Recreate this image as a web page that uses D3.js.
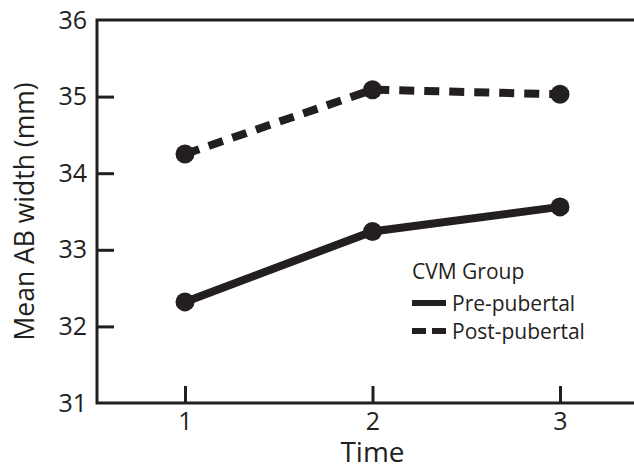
<!DOCTYPE html>
<html>
<head>
<meta charset="utf-8">
<script src="https://cdn.jsdelivr.net/npm/d3@7"></script>
<style>
  body { margin: 0; background: #fff; }
  svg { display: block; font-family: "Open Sans", sans-serif; }
</style>
</head>
<body>
<svg id="chart"></svg>
<script>
const WIDTH = 634;
const HEIGHT = 467;
const INK = "#231f20";

const times = [1, 2, 3];
const prePubertal = [32.32, 33.24, 33.56];
const postPubertal = [34.25, 35.09, 35.03];
const yTicks = [31, 32, 33, 34, 35, 36];
const groups = ["Pre-pubertal", "Post-pubertal"];

const svg = d3.select("#chart").attr("width", WIDTH).attr("height", HEIGHT);

const left = 97;
const xScale = d3.scaleLinear().domain([1, 3]).range([185, 560]);
const yScale = d3.scaleLinear().domain([31, 36]).range([403, 20]);

// frame: left axis, bottom and top lines run off the right edge
svg.append("path")
  .attr("d", `M${WIDTH},${yScale(36)}H${left}V${yScale(31)}H${WIDTH}`)
  .attr("fill", "none")
  .attr("stroke", INK)
  .attr("stroke-width", 3);

const yAxis = svg.append("g")
  .attr("transform", `translate(${left},0)`)
  .call(d3.axisLeft(yScale).tickValues(yTicks).tickSize(-17).tickPadding(10).tickFormat(d3.format("d")));
yAxis.select(".domain").remove();
yAxis.selectAll(".tick line").attr("stroke", INK).attr("stroke-width", 3);
yAxis.selectAll(".tick").filter((d) => d === 31 || d === 36).select("line").remove();
yAxis.selectAll("text").attr("font-size", 25).attr("fill", INK).attr("font-family", "Open Sans");

const xAxis = svg.append("g")
  .attr("transform", `translate(0,${yScale(31)})`)
  .call(d3.axisBottom(xScale).tickValues(times).tickSize(-17).tickPadding(9).tickFormat(d3.format("d")));
xAxis.select(".domain").remove();
xAxis.selectAll(".tick line").attr("stroke", INK).attr("stroke-width", 3);
xAxis.selectAll("text").attr("font-size", 25).attr("fill", INK).attr("font-family", "Open Sans");

svg.append("text")
  .attr("x", (xScale(1) + xScale(3)) / 2)
  .attr("y", 462)
  .attr("text-anchor", "middle")
  .attr("font-size", 28)
  .attr("fill", INK)
  .text("Time");

svg.append("text")
  .attr("transform", `translate(34,${(yScale(31) + yScale(36)) / 2}) rotate(-90)`)
  .attr("text-anchor", "middle")
  .attr("font-size", 26.5)
  .attr("fill", INK)
  .text("Mean AB width (mm)");

const line = d3.line().x((d, i) => xScale(times[i])).y((d) => yScale(d));

const series = [
  { name: groups[0], values: prePubertal, dash: null },
  { name: groups[1], values: postPubertal, dash: "15,10" }
];

series.forEach((s) => {
  svg.append("path")
    .datum(s.values)
    .attr("d", line)
    .attr("fill", "none")
    .attr("stroke", INK)
    .attr("stroke-width", 8)
    .attr("stroke-dasharray", s.dash);
  svg.append("g")
    .selectAll("circle")
    .data(s.values)
    .join("circle")
    .attr("cx", (d, i) => xScale(times[i]))
    .attr("cy", (d) => yScale(d))
    .attr("r", 9.5)
    .attr("fill", INK);
});

// legend
const legend = svg.append("g").attr("transform", "translate(412,0)");
legend.append("text").attr("x", 0).attr("y", 279).attr("font-size", 21).attr("fill", INK).text("CVM Group");
series.forEach((s, i) => {
  const y = 303 + i * 28;
  legend.append("line")
    .attr("x1", 0).attr("x2", 34).attr("y1", y).attr("y2", y)
    .attr("stroke", INK).attr("stroke-width", 6)
    .attr("stroke-dasharray", s.dash ? "14,6" : null);
  legend.append("text").attr("x", 40).attr("y", y + 8).attr("font-size", 21).attr("fill", INK).text(s.name);
});
</script>
</body>
</html>
